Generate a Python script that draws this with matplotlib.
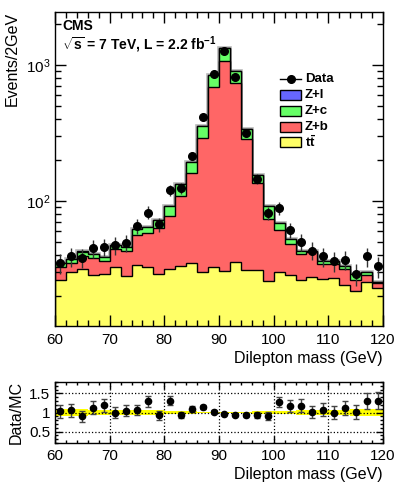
import matplotlib
matplotlib.use('Agg')
import matplotlib.pyplot as plt
from matplotlib.patches import Rectangle
from matplotlib.lines import Line2D
from matplotlib.ticker import MultipleLocator, FixedLocator
import numpy as np

plt.rcParams['font.family'] = ['Liberation Sans', 'DejaVu Sans']
plt.rcParams['mathtext.fontset'] = 'custom'
plt.rcParams['mathtext.rm'] = 'Liberation Sans'
plt.rcParams['mathtext.bf'] = 'Liberation Sans:bold'

# 2 GeV bins from 60 to 120
edges = np.arange(60, 122, 2)

# stacked MC components (events per bin)
ttbar = [26.1, 29.9, 31.3, 28.5, 29.2, 32.4, 27.9, 34.0, 32.5, 28.9,
         31.5, 33.3, 34.6, 30.1, 32.5, 30.4, 35.4, 30.8, 31.1, 25.7,
         30.2, 28.5, 26.1, 27.3, 26.6, 27.0, 24.1, 21.8, 25.5, 22.7]
z_b = [6.3, 5.2, 8.1, 9.4, 6.6, 11.8, 14.5, 22.2, 25.3, 34.1,
       45.2, 75.5, 126.8, 259, 652, 1039, 698, 254, 104, 47.6,
       31.0, 19.8, 14.5, 14.4, 7.6, 7.2, 7.4, 4.4, 3.1, 2.1]
z_c = [2.6, 2.0, 2.9, 2.6, 3.0, 3.1, 3.6, 6.1, 6.1, 8.7,
       14.6, 23.2, 32.0, 65, 155, 253, 168, 50, 19.4, 18.2,
       7.1, 4.2, 2.1, 1.3, 1.9, 1.9, 1.7, 2.6, 1.5, 0.6]
z_l = [0.1, 0.1, 0.1, 0.1, 0.1, 0.1, 0.1, 0.2, 0.2, 0.8,
       0.5, 0.7, 1.1, 2.0, 4.0, 5.0, 7.0, 2.6, 0.6, 0.4,
       0.2, 0.1, 0.1, 0.1, 0.1, 0.1, 0.1, 0.1, 0.1, 0.1]

data = [35, 39, 38, 45, 46, 47, 49, 65, 82, 67,
        120, 124, 214, 412, 859, 1274, 817, 315, 145, 81,
        88, 61, 50, 43, 39, 36, 37, 29, 39, 33]

# Data/MC ratio panel
ratio = [1.03, 1.06, 0.90, 1.13, 1.19, 1.00, 1.05, 1.07, 1.30, 0.93,
         1.31, 0.94, 1.10, 1.15, 1.02, 0.97, 0.93, 0.93, 0.94, 0.91,
         1.28, 1.17, 1.18, 1.02, 1.07, 1.00, 1.11, 1.02, 1.30, 1.31]
mc_unc = [0.08, 0.08, 0.08, 0.075, 0.07, 0.07, 0.07, 0.065, 0.06, 0.055,
          0.05, 0.045, 0.035, 0.025, 0.02, 0.02, 0.02, 0.025, 0.03, 0.035,
          0.045, 0.05, 0.055, 0.06, 0.065, 0.07, 0.075, 0.08, 0.08, 0.08]

centers = (edges[:-1] + edges[1:]) / 2
data = np.array(data, dtype=float)
data_err = np.sqrt(data)
ratio = np.array(ratio)
ratio_err = ratio / np.sqrt(data)

c_tt = '#ffff66'
c_zb = '#ff6666'
c_zc = '#66ff66'
c_zl = '#6666ff'

W, H = 399, 492
fig = plt.figure(figsize=(W / 100, H / 100), dpi=100)
ax = fig.add_axes([55 / W, 1 - 326 / H, 328 / W, 314 / H])
rax = fig.add_axes([55 / W, 1 - 443 / H, 328 / W, 61 / H])

# stack, drawn from the top layer down
lay1 = np.array(ttbar)
lay2 = lay1 + np.array(z_b)
lay3 = lay2 + np.array(z_c)
lay4 = lay3 + np.array(z_l)
ax.stairs(lay4, edges, baseline=1e-3, fill=False, edgecolor='#b8b8b8', lw=2.6)
for lay, col in [(lay4, c_zl), (lay3, c_zc), (lay2, c_zb), (lay1, c_tt)]:
    ax.stairs(lay, edges, baseline=1e-3, fill=True, facecolor=col,
              edgecolor='black', lw=1.0)

ax.errorbar(centers, data, yerr=data_err, fmt='o', color='black',
            ecolor='#333333', elinewidth=1, markersize=5.5, capsize=0, zorder=5)

ax.set_yscale('log')
ax.set_xlim(60, 120)
ax.set_ylim(12, 2450)
ax.xaxis.set_major_locator(MultipleLocator(10))
ax.xaxis.set_minor_locator(MultipleLocator(2))
ax.tick_params(which='both', direction='in', top=True, right=True, labelsize=11)
ax.tick_params(which='major', length=8, width=1)
ax.tick_params(which='minor', length=4, width=1)
ax.tick_params(axis='x', pad=5)
for s in ax.spines.values():
    s.set_linewidth(1)
ax.set_xlabel('Dilepton mass (GeV)', fontsize=11.5, ha='right', x=1.0, labelpad=3)
ax.set_ylabel('Events/2GeV', fontsize=11.5, ha='right', y=1.0, labelpad=4)

ax.text(0.022, 0.955, 'CMS', transform=ax.transAxes, fontsize=10,
        fontweight='bold', va='center', ha='left')
ax.text(0.022, 0.895, r'$\sqrt{\mathbf{s}}$ = 7 TeV, L = 2.2 fb$^{\mathbf{-1}}$',
        transform=ax.transAxes, fontsize=10, fontweight='bold', va='center', ha='left')

# legend, drawn by hand in axes coordinates
def ax_xy(px, py):
    return (px - 55) / 328, (326 - py) / 314

lx0, _ = ax_xy(280, 0)
lx1, _ = ax_xy(301, 0)
tx, _ = ax_xy(305, 0)
_, ydata = ax_xy(0, 79)
ax.add_line(Line2D([lx0, lx1], [ydata, ydata], transform=ax.transAxes,
                   color='black', lw=1))
ax.plot([(lx0 + lx1) / 2], [ydata], 'o', color='black', markersize=5.5,
        transform=ax.transAxes)
ax.text(tx, ydata, 'Data', transform=ax.transAxes, fontsize=9.5,
        fontweight='bold', va='center')
entries = [(c_zl, 'Z+l', 95), (c_zc, 'Z+c', 111), (c_zb, 'Z+b', 127),
           (c_tt, r'$\mathbf{t\bar{t}}$', 142)]
for col, lab, py in entries:
    _, yy = ax_xy(0, py)
    hh = 10 / 314
    ax.add_patch(Rectangle((lx0, yy - hh / 2), lx1 - lx0, hh, transform=ax.transAxes,
                           facecolor=col, edgecolor='black', lw=1))
    ax.text(tx, yy, lab, transform=ax.transAxes, fontsize=9.5,
            fontweight='bold', va='center')

# ratio panel
rax.fill_between(edges, np.append(1 - np.array(mc_unc), 1 - mc_unc[-1]),
                 np.append(1 + np.array(mc_unc), 1 + mc_unc[-1]),
                 step='post', color='#ffff00', lw=0, zorder=1)
rax.errorbar(centers, ratio, yerr=ratio_err, fmt='o', color='black',
             ecolor='#444444', elinewidth=1, markersize=4.5, capsize=2,
             capthick=1, zorder=5)
rax.set_xlim(60, 120)
rax.set_ylim(0.2, 1.8)
rax.xaxis.set_major_locator(MultipleLocator(10))
rax.xaxis.set_minor_locator(MultipleLocator(2))
rax.yaxis.set_major_locator(FixedLocator([0.5, 1.0, 1.5]))
rax.yaxis.set_minor_locator(MultipleLocator(0.1))
rax.set_yticklabels(['0.5', '1', '1.5'])
rax.grid(True, which='major', ls=':', color='black', lw=0.9)
rax.tick_params(which='both', direction='in', top=True, right=True, labelsize=11)
rax.tick_params(which='major', length=5, width=1)
rax.tick_params(which='minor', length=2.5, width=1)
rax.tick_params(axis='x', pad=4)
for s in rax.spines.values():
    s.set_linewidth(1)
rax.set_xlabel('Dilepton mass (GeV)', fontsize=11.5, ha='right', x=1.0, labelpad=3)
rax.set_ylabel('Data/MC', fontsize=11.5, labelpad=4)

fig.savefig('out.png', dpi=100)
